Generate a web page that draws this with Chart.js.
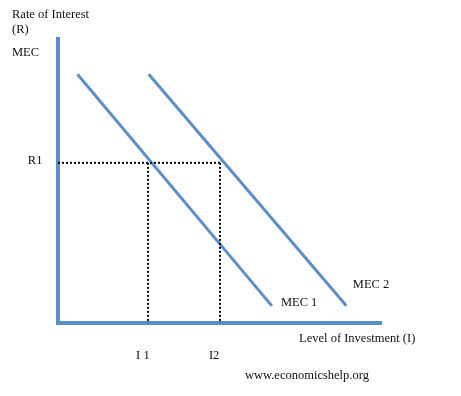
<!DOCTYPE html>
<html>
<head>
<meta charset="utf-8">
<script src="https://cdn.jsdelivr.net/npm/chart.js@4/dist/chart.umd.min.js"></script>
<style>
  html, body { margin:0; padding:0; background:#fff; }
  #wrap { width:461px; height:396px; position:relative; }
</style>
</head>
<body>
<div id="wrap"><canvas id="js-chart"></canvas></div>
<script>
  /* ━━━━  DATA  ━━━━ */
  // x = level of investment, y = rate of interest (arbitrary units 0..100)
  const mec1X = [6, 66];
  const mec1Y = [87, 6];
  const mec2X = [28, 89];
  const mec2Y = [87, 6];
  const R1 = 56;
  const I1 = 27.8;
  const I2 = 50;
  const axisMax = 100;

  // text labels: [text, x, y, align]
  const labels = [
    ['Rate of Interest', -14.2, 107.7, 'left'],
    ['(R)',              -14.2, 102.4, 'left'],
    ['MEC',              -14.2, 94.4,  'left'],
    ['R1',               -9.3,  R1 + 0.7, 'left'],
    ['I 1',              I1 - 1.6, -11.6, 'center'],
    ['I2',               I2 - 1.8, -11.6, 'center'],
    ['MEC 1',            68.8,  7.0,   'left'],
    ['MEC 2',            91.0,  13.3,  'left'],
    ['Level of Investment (I)', 74.4, -5.6, 'left'],
    ['www.economicshelp.org',   57.7, -18.5, 'left']
  ];

  /* ━━━━  UTILS  ━━━━ */
  const BLUE = '#5b8fca';
  const pts = (xs, ys) => xs.map((x, i) => ({ x, y: ys[i] }));

  const textPlugin = {
    id: 'texts',
    afterDatasetsDraw(chart) {
      const { ctx, scales: { x, y } } = chart;
      ctx.save();
      ctx.fillStyle = '#111';
      ctx.font = '12.5px "Liberation Serif", "DejaVu Serif", serif';
      ctx.textBaseline = 'middle';
      labels.forEach(([t, lx, ly, al]) => {
        ctx.textAlign = al;
        ctx.fillText(t, x.getPixelForValue(lx), y.getPixelForValue(ly));
      });
      ctx.restore();
    }
  };

  const dotted = { borderColor: '#000', borderWidth: 2, borderDash: [2, 2], pointRadius: 0, clip: false };
  const solid  = { borderColor: BLUE, borderWidth: 3, pointRadius: 0, clip: false };

  new Chart(document.getElementById('js-chart').getContext('2d'), {
    type: 'scatter',
    data: {
      datasets: [
        { ...dotted, showLine: true, data: [{ x: 0, y: R1 }, { x: I2, y: R1 }] },
        { ...dotted, showLine: true, data: [{ x: I1, y: R1 }, { x: I1, y: 0 }] },
        { ...dotted, showLine: true, data: [{ x: I2, y: R1 }, { x: I2, y: 0 }] },
        { ...solid, showLine: true, data: pts(mec1X, mec1Y) },
        { ...solid, showLine: true, data: pts(mec2X, mec2Y) },
        { ...solid, borderWidth: 4, showLine: true, data: [{ x: 0, y: axisMax }, { x: 0, y: 0 }, { x: axisMax, y: 0 }] }
      ]
    },
    options: {
      responsive: true,
      maintainAspectRatio: false,
      animation: false,
      layout: { padding: { left: 58, right: 79, top: 37, bottom: 73 } },
      plugins: { legend: { display: false }, tooltip: { enabled: false } },
      scales: {
        x: { type: 'linear', min: 0, max: axisMax, display: false },
        y: { type: 'linear', min: 0, max: axisMax, display: false }
      }
    },
    plugins: [textPlugin]
  });
</script>
</body>
</html>
